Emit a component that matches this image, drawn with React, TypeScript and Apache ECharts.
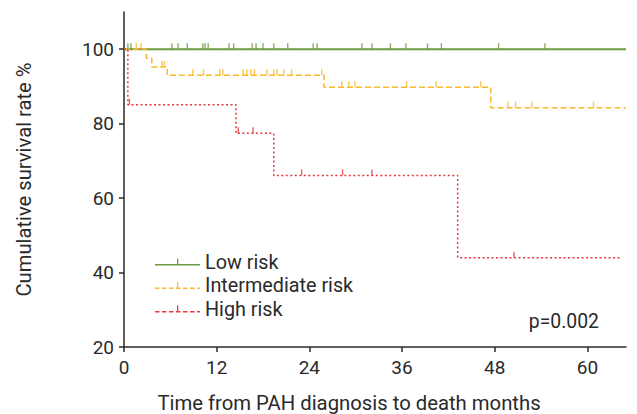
import React, { useEffect, useRef } from "react";
import * as echarts from "echarts";

// ---- data (months, survival %) ----
const xTicks = [0, 12, 24, 36, 48, 60];
const yTicks = [20, 40, 60, 80, 100];

const seriesNames = ["Low risk", "Intermediate risk", "High risk"];

const lowTimes = [0, 65];
const lowSurv = [100, 100];
const lowCensor = [0.5, 0.9, 6.2, 7.0, 8.2, 10.2, 10.5, 10.9, 13.6, 14.2, 16.6, 17.1, 18.0, 19.4, 21.2, 24.5, 25.0, 30.8, 32.1, 34.5, 36.5, 39.3, 41.1, 48.5, 54.5];

const intTimes = [0, 2.9, 3.6, 5.6, 25.9, 47.5, 65];
const intSurv = [100, 97.6, 95.2, 93.0, 89.8, 84.3, 84.3];
const intCensor = [1.6, 2.2, 4.9, 5.2, 8.9, 10.3, 12.4, 12.8, 15.4, 15.9, 16.4, 16.9, 18.5, 19.4, 19.8, 20.7, 21.7, 25.6, 28.2, 29.1, 29.9, 36.6, 40.4, 46.2, 49.7, 50.7, 52.8, 60.8];

const highTimes = [0, 0.5, 14.5, 19.4, 43.2, 64.5];
const highSurv = [100, 85.1, 77.4, 66.1, 44.0, 44.0];
const highCensor = [0.7, 14.8, 16.7, 23.0, 28.3, 32.1, 50.5];

const pText = "p=0.002";

// ---- styling ----
const COLORS = ["#6c9c3e", "#f9b92c", "#e5393b"];
const FONT = "Roboto";
const TEXT = "#2a2a2a";

function stepPoints(times: number[], surv: number[]) {
  return times.map((t, i) => [t, surv[i]]);
}
function levelAt(times: number[], surv: number[], t: number) {
  let v = surv[0];
  for (let i = 0; i < times.length; i++) if (times[i] <= t) v = surv[i];
  return v;
}
function iconPath(dashed: boolean) {
  const w = 45, h = 7, th = 1.5;
  let d = "";
  if (!dashed) {
    d += `M0,${h - th}H${w}V${h}H0Z `;
  } else {
    const dash = 4.5, gap = 2.5;
    for (let x = 0; x < w; x += dash + gap) {
      const x2 = Math.min(w, x + dash);
      d += `M${x},${h - th}H${x2}V${h}H${x}Z `;
    }
  }
  d += `M22,0H23.3V${h}H22Z`;
  return "path://" + d;
}

export default function App() {
  const ref = useRef<HTMLDivElement>(null);
  useEffect(() => {
    if (!ref.current) return;
    const chart = echarts.init(ref.current, undefined, { renderer: "svg" });
    const groups = [
      { times: lowTimes, surv: lowSurv, censor: lowCensor, type: "solid", width: 2 },
      { times: intTimes, surv: intSurv, censor: intCensor, type: [6, 3], width: 1.5 },
      { times: highTimes, surv: highSurv, censor: highCensor, type: [2, 2.5], width: 1.5 },
    ];
    const series: any[] = [];
    groups.forEach((g, i) => {
      series.push({
        name: seriesNames[i],
        type: "line",
        step: "end",
        symbol: "none",
        data: stepPoints(g.times, g.surv),
        lineStyle: { color: COLORS[i], width: g.width, type: g.type },
        itemStyle: { color: COLORS[i] },
        z: 2,
      });
      series.push({
        name: seriesNames[i],
        type: "scatter",
        symbol: "rect",
        symbolSize: [1.4, 6],
        symbolOffset: [0, -3],
        data: g.censor.map((t) => [t, levelAt(g.times, g.surv, t)]),
        itemStyle: { color: COLORS[i] },
        silent: true,
        z: 3,
      });
    });
    const axisLine = { lineStyle: { color: TEXT, width: 1.5 } };
    chart.setOption({
      animation: false,
      textStyle: { fontFamily: FONT },
      grid: { left: 124, right: 11, top: 12, bottom: 67, outerBoundsMode: "none" },
      legend: {
        orient: "vertical",
        left: 150,
        top: 247,
        itemWidth: 45,
        itemHeight: 7,
        itemGap: 3.5,
        textStyle: { fontSize: 19.8, lineHeight: 20, color: TEXT, fontFamily: FONT, padding: [0, 0, 0, 0] },
        itemStyle: { borderWidth: 0 },
        data: seriesNames.map((n, i) => ({ name: n, icon: iconPath(i > 0) })),
      },
      xAxis: {
        type: "value",
        min: 0,
        max: 65,
        interval: 12,
        name: "Time from PAH diagnosis to death months",
        nameLocation: "middle",
        nameGap: 46,
        nameTextStyle: { fontSize: 20.3, color: TEXT, padding: [0, 52, 0, 0] },
        axisLine,
        axisTick: { customValues: xTicks, length: 5, lineStyle: { color: TEXT, width: 1.5 } },
        axisLabel: { customValues: xTicks, fontSize: 19, color: TEXT, margin: 11 },
        splitLine: { show: false },
      },
      yAxis: {
        type: "value",
        min: 20,
        max: 110,
        interval: 20,
        name: "Cumulative survival rate %",
        nameLocation: "middle",
        nameGap: 90,
        nameTextStyle: { fontSize: 20.2, color: TEXT },
        axisLine,
        axisTick: { customValues: yTicks, length: 5, lineStyle: { color: TEXT, width: 1.5 } },
        axisLabel: { customValues: yTicks, fontSize: 19, color: TEXT, margin: 10 },
        splitLine: { show: false },
      },
      graphic: [
        {
          type: "text",
          right: 38,
          top: 312,
          style: { text: pText, fontSize: 19.4, fill: TEXT, fontFamily: FONT },
        },
      ],
      series,
    });
    return () => chart.dispose();
  }, []);
  return (
    <div
      ref={ref}
      style={{ position: "fixed", left: 0, top: 0, width: 637, height: 414, background: "#fff" }}
    />
  );
}
